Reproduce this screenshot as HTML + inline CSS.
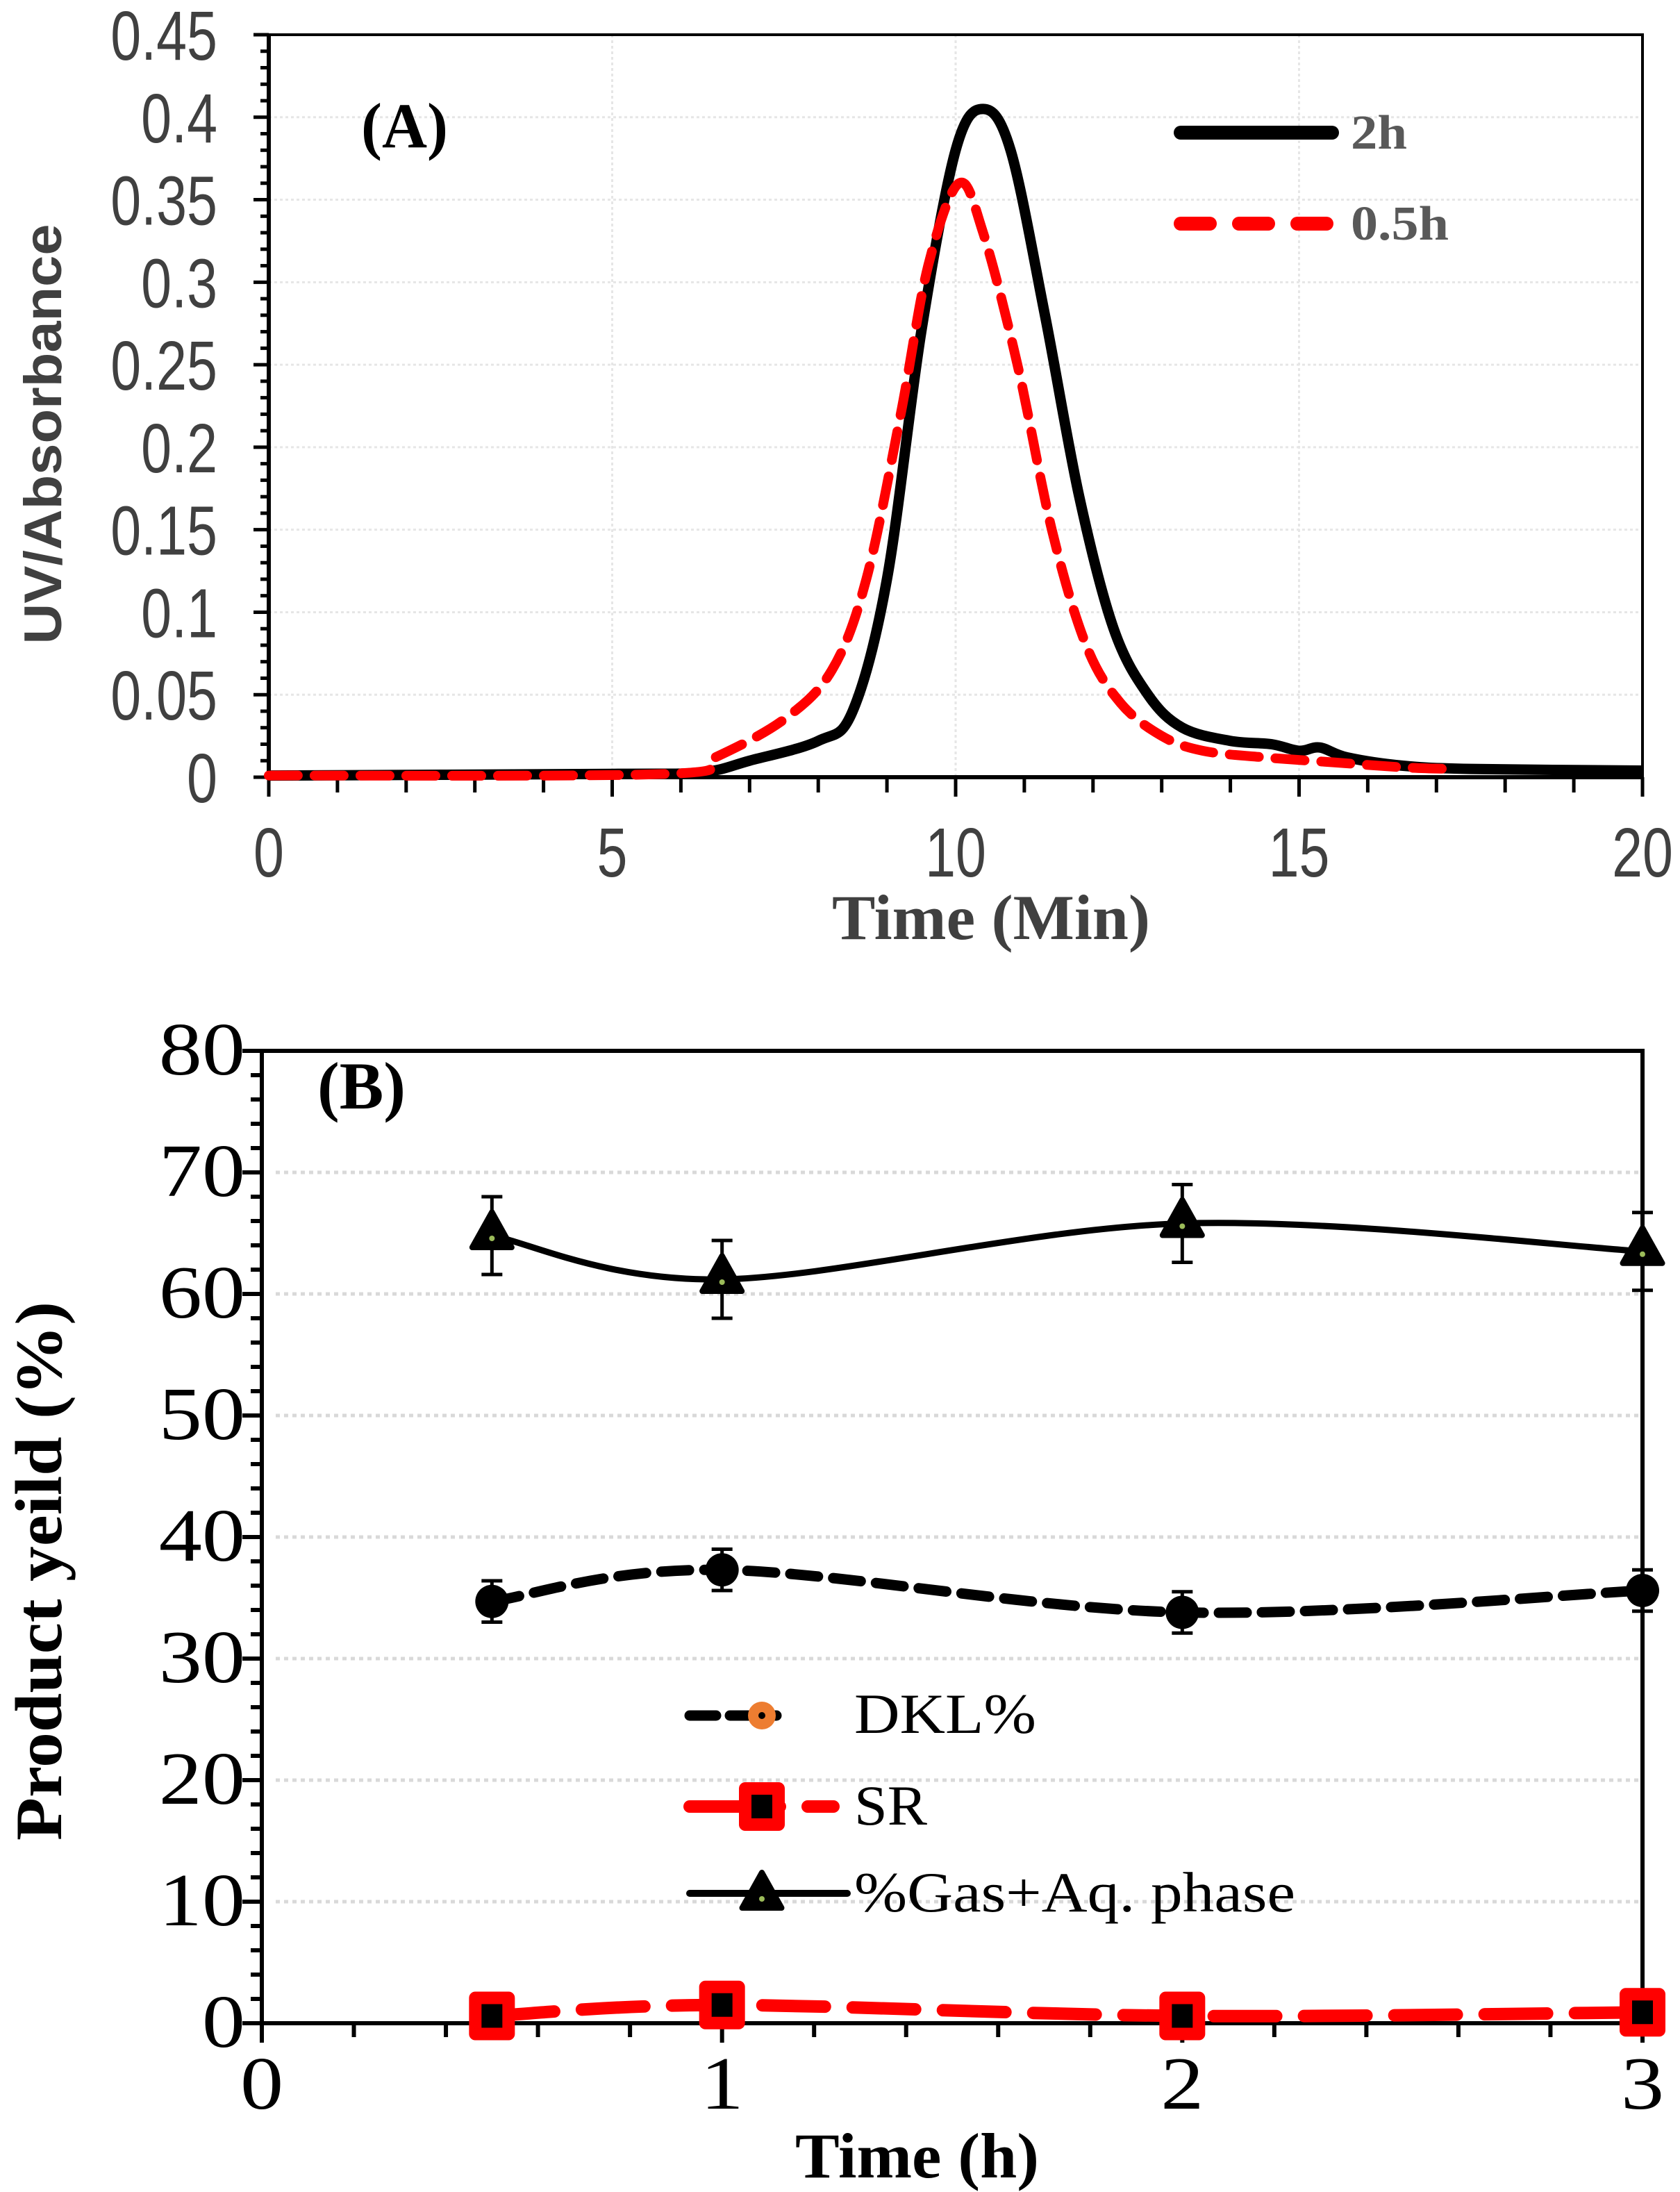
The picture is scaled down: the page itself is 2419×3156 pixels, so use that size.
<!DOCTYPE html>
<html><head><meta charset="utf-8"><style>
html,body{margin:0;padding:0;background:#fff}
svg{display:block}
</style></head><body>
<svg id="s" width="2419" height="3156" viewBox="0 0 2419 3156" xmlns="http://www.w3.org/2000/svg">
<rect width="2419" height="3156" fill="#fff"/>
<g id="A"></g>
<g id="B"></g>
<g id="aty" font-family="Liberation Sans, sans-serif" font-size="100" fill="#404040"></g>
<text x="520" y="212" font-family="Liberation Serif, serif" font-weight="bold" font-size="92" textLength="125" lengthAdjust="spacingAndGlyphs">(A)</text>
<text x="1945" y="214" font-family="Liberation Serif, serif" font-weight="bold" font-size="70" fill="#595959" textLength="81" lengthAdjust="spacingAndGlyphs">2h</text>
<text x="1945" y="345" font-family="Liberation Serif, serif" font-weight="bold" font-size="70" fill="#595959" textLength="141" lengthAdjust="spacingAndGlyphs">0.5h</text>
<text x="1198" y="1352" font-family="Liberation Serif, serif" font-weight="bold" font-size="92" fill="#404040" textLength="458" lengthAdjust="spacingAndGlyphs">Time (Min)</text>
<text transform="translate(88,625) rotate(-90)" font-family="Liberation Sans, sans-serif" font-weight="bold" font-size="76" fill="#404040" text-anchor="middle" textLength="605" lengthAdjust="spacingAndGlyphs">UV/Absorbance</text>
<text x="457" y="1596" font-family="Liberation Serif, serif" font-weight="bold" font-size="96" textLength="127" lengthAdjust="spacingAndGlyphs">(B)</text>
<text x="1145" y="3135" font-family="Liberation Serif, serif" font-weight="bold" font-size="92" textLength="351" lengthAdjust="spacingAndGlyphs">Time (h)</text>
<text transform="translate(88,2262) rotate(-90)" font-family="Liberation Serif, serif" font-weight="bold" font-size="95" text-anchor="middle" textLength="776" lengthAdjust="spacingAndGlyphs">Product yeild (%)</text>
<text x="1230" y="2495" font-family="Liberation Serif, serif" font-size="82" textLength="262" lengthAdjust="spacingAndGlyphs">DKL%</text>
<text x="1230" y="2627" font-family="Liberation Serif, serif" font-size="82" textLength="105" lengthAdjust="spacingAndGlyphs">SR</text>
<text x="1230" y="2752" font-family="Liberation Serif, serif" font-size="82" textLength="635" lengthAdjust="spacingAndGlyphs">%Gas+Aq. phase</text>
</svg>
<script>
var NS="http://www.w3.org/2000/svg";
function el(p,t,a,txt){var e=document.createElementNS(NS,t);for(var k in a)e.setAttribute(k,a[k]);if(txt!==undefined)e.textContent=txt;document.getElementById(p).appendChild(e);return e;}
function smooth(pts){var d="M"+pts[0][0].toFixed(1)+","+pts[0][1].toFixed(1);for(var i=0;i<pts.length-1;i++){var p0=pts[i-1]||pts[i],p1=pts[i],p2=pts[i+1],p3=pts[i+2]||p2;var c1=[p1[0]+(p2[0]-p0[0])/6,p1[1]+(p2[1]-p0[1])/6],c2=[p2[0]-(p3[0]-p1[0])/6,p2[1]-(p3[1]-p1[1])/6];d+=" C"+c1[0].toFixed(1)+","+c1[1].toFixed(1)+" "+c2[0].toFixed(1)+","+c2[1].toFixed(1)+" "+p2[0].toFixed(1)+","+p2[1].toFixed(1);}return d;}
var AL=387,AR=2365,AT=50,AB=1119;
function ax(t){return AL+(AR-AL)*t/20;} function ay(v){return AB-(AB-AT)*v/0.45;}
for(var i=1;i<=9;i++){el("A","line",{x1:AL,x2:AR,y1:ay(i*0.05),y2:ay(i*0.05),stroke:"#e6e6e6","stroke-width":3,"stroke-dasharray":"4 4"});}
for(var i=1;i<4;i++){el("A","line",{x1:ax(i*5),x2:ax(i*5),y1:AT,y2:AB,stroke:"#e6e6e6","stroke-width":3,"stroke-dasharray":"4 4"});}
el("A","rect",{x:AL,y:AT,width:AR-AL,height:AB-AT,fill:"none",stroke:"#000","stroke-width":4});
el("A","line",{x1:AL,x2:AL,y1:AT,y2:AB,stroke:"#000","stroke-width":6});
el("A","line",{x1:AL,x2:AR,y1:AB,y2:AB,stroke:"#000","stroke-width":6});
for(var i=0;i<=45;i++){var w=(i%5==0)?22:12;el("A","line",{x1:AL-w,x2:AL,y1:ay(i*0.01),y2:ay(i*0.01),stroke:"#000","stroke-width":5});}
for(var i=0;i<=20;i++){el("A","line",{x1:ax(i),x2:ax(i),y1:AB,y2:AB+(i%5==0?28:22),stroke:"#000","stroke-width":5});}
var yl=["0","0.05","0.1","0.15","0.2","0.25","0.3","0.35","0.4","0.45"];
for(var i=0;i<10;i++)el("aty","text",{transform:"translate(313,"+(ay(i*0.05)+36)+") scale(0.79,1)","text-anchor":"end"},yl[i]);
for(var i=0;i<=4;i++)el("aty","text",{transform:"translate("+ax(i*5)+",1262) scale(0.79,1)","text-anchor":"middle"},String(i*5));
var blk=[[0,0.001],[5,0.002],[6.3,0.003],[7,0.01],[8,0.022],[8.5,0.04],[9,0.12],[9.5,0.27],[10,0.38],[10.4,0.405],[10.8,0.38],[11.3,0.28],[11.8,0.17],[12.3,0.09],[12.8,0.05],[13.3,0.03],[14,0.022],[14.6,0.02],[15,0.016],[15.3,0.018],[15.7,0.012],[16.5,0.007],[17.5,0.005],[20,0.004]];
var red=[[0,0.001],[5.8,0.002],[6.5,0.012],[7.5,0.035],[8.2,0.065],[8.7,0.12],[9.2,0.22],[9.6,0.31],[10.05,0.36],[10.4,0.33],[10.9,0.25],[11.4,0.15],[11.9,0.08],[12.4,0.045],[13,0.025],[13.6,0.016],[14.5,0.012],[15.5,0.009],[16.5,0.006],[17.2,0.005]];
function mapA(a){return a.map(function(p){return [ax(p[0]),ay(p[1])];});}
el("A","path",{d:smooth(mapA(blk)),fill:"none",stroke:"#000","stroke-width":15,"stroke-linejoin":"round"});
el("A","path",{d:smooth(mapA(red)),fill:"none",stroke:"#f00","stroke-width":14,"stroke-dasharray":"42 24","stroke-linecap":"round"});
el("A","line",{x1:1700,x2:1918,y1:191,y2:191,stroke:"#000","stroke-width":20,"stroke-linecap":"round"});
el("A","line",{x1:1700,x2:1918,y1:322,y2:322,stroke:"#f00","stroke-width":20,"stroke-linecap":"round","stroke-dasharray":"42 42"});
var BL=377,BR=2365,BT=1513,BB=2913;
function bx(t){return BL+(BR-BL)*t/3;} function by(v){return BB-(BB-BT)*v/80;}
for(var i=1;i<=7;i++){el("B","line",{x1:BL+20,x2:BR,y1:by(i*10),y2:by(i*10),stroke:"#d9d9d9","stroke-width":5,"stroke-dasharray":"6 6"});}
el("B","rect",{x:BL,y:BT,width:BR-BL,height:BB-BT,fill:"none",stroke:"#000","stroke-width":6});
for(var i=0;i<=40;i++){var w=(i%5==0)?28:16;el("B","line",{x1:BL-w,x2:BL,y1:by(i*2),y2:by(i*2),stroke:"#000","stroke-width":6});}
for(var i=0;i<=15;i++){el("B","line",{x1:bx(i*0.2),x2:bx(i*0.2),y1:BB,y2:BB+(i%5==0?28:20),stroke:"#000","stroke-width":6});}
for(var i=0;i<=8;i++)el("B","text",{transform:"translate(353,"+(by(i*10)+34)+") scale(1.15,1)","text-anchor":"end","font-family":"Liberation Serif, serif","font-size":108},String(i*10));
for(var i=0;i<=3;i++)el("B","text",{transform:"translate("+bx(i)+",3036) scale(1.15,1)","text-anchor":"middle","font-family":"Liberation Serif, serif","font-size":108},String(i));
var T=[0.5,1,2,3];
function curve(v){return smooth(T.map(function(t,i){return [bx(t),by(v[i])];}));}
var gas=[64.8,61.2,65.8,63.5],dkl=[34.7,37.3,33.8,35.6],sr=[0.6,1.5,0.6,0.9];
function eb(v,e){T.forEach(function(t,i){var x=bx(t);el("B","line",{x1:x,x2:x,y1:by(v[i]-e),y2:by(v[i]+e),stroke:"#000","stroke-width":5});[-e,e].forEach(function(d){el("B","line",{x1:x-15,x2:x+15,y1:by(v[i]+d),y2:by(v[i]+d),stroke:"#000","stroke-width":5});});});}
eb(gas,3.2);eb(dkl,1.7);
el("B","path",{d:curve(gas),fill:"none",stroke:"#000","stroke-width":9});
el("B","path",{d:curve(dkl),fill:"none",stroke:"#000","stroke-width":15,"stroke-dasharray":"40 22","stroke-linecap":"round"});
el("B","path",{d:curve(sr),fill:"none",stroke:"#f00","stroke-width":18,"stroke-dasharray":"90 40","stroke-linecap":"round"});
function tri(x,y,s){el("B","path",{d:"M"+x+","+(y-s)+" L"+(x+s*0.95)+","+(y+s*0.7)+" L"+(x-s*0.95)+","+(y+s*0.7)+"Z",fill:"#000",stroke:"#000","stroke-width":8,"stroke-linejoin":"round"});el("B","circle",{cx:x,cy:y+8,r:4,fill:"#9bbb59"});}
function sq(x,y){el("B","rect",{x:x-24,y:y-26,width:48,height:52,fill:"#000",stroke:"#f00","stroke-width":18,"stroke-linejoin":"round"});}
T.forEach(function(t,i){tri(bx(t),by(gas[i])-4,30);el("B","circle",{cx:bx(t),cy:by(dkl[i]),r:24,fill:"#000"});sq(bx(t),by(sr[i]));});
el("B","line",{x1:993,x2:1118,y1:2470,y2:2470,stroke:"#000","stroke-width":15,"stroke-dasharray":"38 20","stroke-linecap":"round"});
el("B","circle",{cx:1097,cy:2470,r:20,fill:"#ed7d31"});el("B","circle",{cx:1097,cy:2470,r:5,fill:"#000"});
el("B","line",{x1:993,x2:1200,y1:2601,y2:2601,stroke:"#f00","stroke-width":18,"stroke-dasharray":"130 40","stroke-linecap":"round"});
sq(1097,2601);
el("B","line",{x1:993,x2:1220,y1:2726,y2:2726,stroke:"#000","stroke-width":10,"stroke-linecap":"round"});
tri(1097,2726,30);
</script>
</body></html>
